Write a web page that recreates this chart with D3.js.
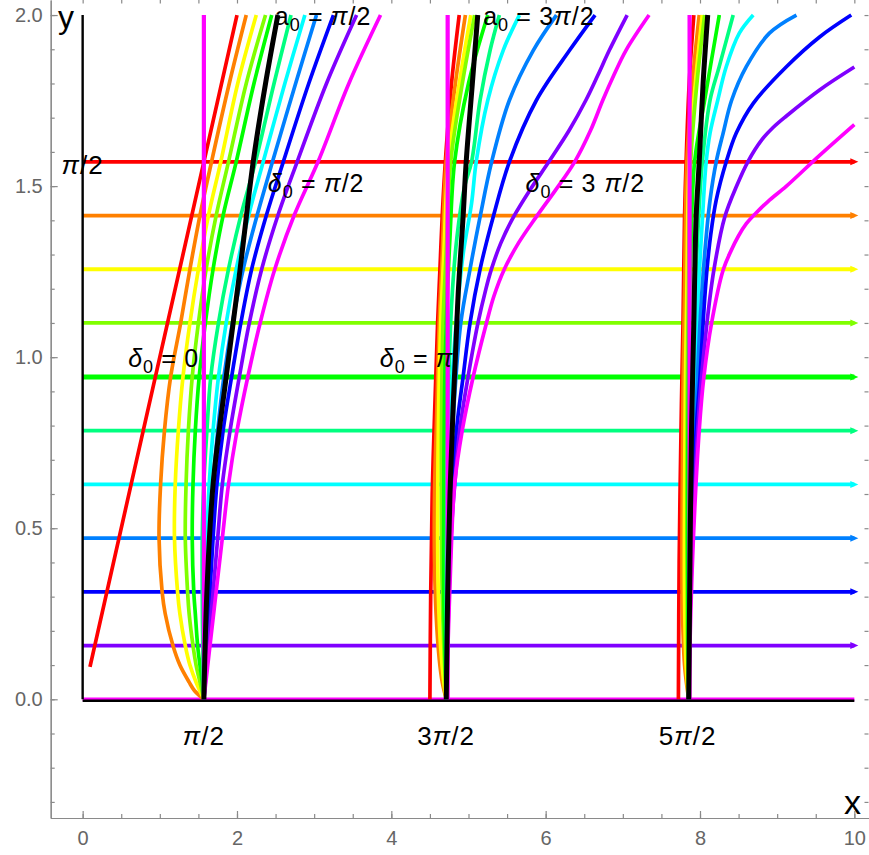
<!DOCTYPE html>
<html>
<head>
<meta charset="utf-8">
<script src="https://cdn.jsdelivr.net/npm/d3@7"></script>
<style>
  body { margin: 0; background: #fff; }
  text { font-family: "Liberation Sans", Arial, sans-serif; }
</style>
</head>
<body>
<div id="chart"></div>
<script>
// horizontal solution lines (y = const) and their colours
const levels = [0, 0.157, 0.314, 0.471, 0.628, 0.785, 0.942, 1.100, 1.257, 1.414, 1.571];
const levelColors = ["#ff00ff", "#8000ff", "#0000ff", "#0080ff", "#00ffff", "#00ff80",
                     "#00ff00", "#80ff00", "#ffff00", "#ff8000", "#ff0000"];

// colours of the curve families, red -> magenta
const curveColors = ["#ff0000", "#ff8000", "#ffff00", "#80ff00", "#00ff00", "#00ff80",
                     "#00ffff", "#0080ff", "#0000ff", "#8000ff", "#ff00ff"];

// vertical magenta lines
const poles = [1.571, 4.73, 7.865];

// curves near x = pi/2, points are [x, y]
const group1 = [
  [[0.095, 0.095], [1.0, 1.0], [2.0, 2.0]],
  [[1.571, 0], [1.45, 0.025], [1.38, 0.05], [1.26, 0.1], [1.17, 0.157], [1.07, 0.25], [1.03, 0.314], [0.99, 0.471], [1.01, 0.628], [1.06, 0.785], [1.14, 0.942], [1.27, 1.1], [1.39, 1.257], [1.52, 1.414], [1.67, 1.571], [1.90, 1.8], [2.12, 2.0]],
  [[1.571, 0], [1.47, 0.05], [1.39, 0.1], [1.33, 0.157], [1.26, 0.25], [1.23, 0.314], [1.19, 0.471], [1.20, 0.628], [1.24, 0.785], [1.30, 0.942], [1.39, 1.1], [1.50, 1.257], [1.63, 1.414], [1.79, 1.571], [2.01, 1.8], [2.25, 2.0]],
  [[1.571, 0], [1.52, 0.05], [1.47, 0.1], [1.43, 0.157], [1.38, 0.25], [1.36, 0.314], [1.33, 0.471], [1.34, 0.628], [1.37, 0.785], [1.42, 0.942], [1.50, 1.1], [1.60, 1.257], [1.73, 1.414], [1.89, 1.571], [2.12, 1.8], [2.37, 2.0]],
  [[1.571, 0], [1.55, 0.05], [1.52, 0.1], [1.49, 0.157], [1.46, 0.25], [1.44, 0.314], [1.42, 0.471], [1.43, 0.628], [1.46, 0.785], [1.51, 0.942], [1.59, 1.1], [1.69, 1.257], [1.82, 1.414], [1.99, 1.571], [2.22, 1.8], [2.45, 2.0]],
  [[1.571, 0], [1.56, 0.1], [1.55, 0.314], [1.55, 0.471], [1.57, 0.628], [1.61, 0.785], [1.66, 0.942], [1.76, 1.1], [1.89, 1.257], [2.05, 1.414], [2.24, 1.571], [2.48, 1.8], [2.70, 2.0]],
  [[1.571, 0], [1.58, 0.157], [1.59, 0.314], [1.61, 0.471], [1.64, 0.628], [1.69, 0.785], [1.76, 0.942], [1.86, 1.1], [1.99, 1.257], [2.15, 1.414], [2.34, 1.571], [2.62, 1.8], [2.88, 2.0]],
  [[1.571, 0], [1.60, 0.157], [1.62, 0.314], [1.65, 0.471], [1.69, 0.628], [1.75, 0.785], [1.83, 0.942], [1.94, 1.1], [2.08, 1.257], [2.26, 1.414], [2.46, 1.571], [2.76, 1.8], [3.03, 2.0]],
  [[1.571, 0], [1.61, 0.157], [1.65, 0.314], [1.69, 0.471], [1.74, 0.628], [1.82, 0.785], [1.93, 0.942], [2.05, 1.1], [2.19, 1.257], [2.38, 1.414], [2.60, 1.571], [2.93, 1.8], [3.25, 2.0]],
  [[1.571, 0], [1.63, 0.157], [1.69, 0.314], [1.75, 0.471], [1.81, 0.628], [1.91, 0.785], [2.03, 0.942], [2.16, 1.1], [2.32, 1.257], [2.53, 1.414], [2.78, 1.571], [3.16, 1.8], [3.55, 2.0]],
  [[1.571, 0], [1.65, 0.157], [1.73, 0.314], [1.81, 0.471], [1.89, 0.628], [2.00, 0.785], [2.14, 0.942], [2.30, 1.1], [2.49, 1.257], [2.74, 1.414], [3.05, 1.571], [3.45, 1.8], [3.86, 2.0]]
];
const black1 = [[1.571, 0], [1.61, 0.314], [1.69, 0.628], [1.86, 0.942], [2.04, 1.257], [2.21, 1.571], [2.37, 1.8], [2.53, 2.0]];

// curves near x = 3pi/2
const group2 = [
  [[4.50, 0], [4.51, 0.3], [4.53, 0.6], [4.57, 0.9], [4.60, 1.1], [4.63, 1.257], [4.66, 1.414], [4.70, 1.571], [4.78, 1.8], [4.88, 2.0]],
  [[4.712, 0], [4.66, 0.05], [4.62, 0.12], [4.58, 0.25], [4.56, 0.4], [4.56, 0.6], [4.59, 0.85], [4.62, 1.1], [4.66, 1.3], [4.71, 1.571], [4.83, 1.8], [4.96, 2.0]],
  [[4.712, 0], [4.68, 0.05], [4.64, 0.15], [4.61, 0.3], [4.60, 0.5], [4.61, 0.8], [4.64, 1.1], [4.68, 1.3], [4.74, 1.571], [4.88, 1.8], [5.03, 2.0]],
  [[4.712, 0], [4.69, 0.1], [4.66, 0.3], [4.65, 0.5], [4.65, 0.8], [4.67, 1.1], [4.71, 1.3], [4.77, 1.571], [4.92, 1.8], [5.08, 2.0]],
  [[4.712, 0], [4.70, 0.1], [4.68, 0.3], [4.68, 0.6], [4.69, 0.9], [4.72, 1.15], [4.76, 1.35], [4.82, 1.571], [5.0, 1.8], [5.25, 2.0]],
  [[4.712, 0], [4.71, 0.3], [4.72, 0.6], [4.74, 0.9], [4.78, 1.15], [4.85, 1.35], [4.95, 1.5], [5.04, 1.571], [5.15, 1.751], [5.28, 1.897], [5.40, 2.0]],
  [[4.712, 0], [4.72, 0.3], [4.74, 0.6], [4.78, 0.9], [4.84, 1.1], [4.93, 1.3], [5.04, 1.45], [5.10, 1.571], [5.25, 1.751], [5.45, 1.897], [5.66, 2.0]],
  [[4.712, 0], [4.73, 0.3], [4.76, 0.6], [4.81, 0.85], [4.90, 1.1], [5.02, 1.257], [5.15, 1.41], [5.30, 1.571], [5.53, 1.751], [5.84, 1.897], [6.14, 2.0]],
  [[4.712, 0], [4.74, 0.3], [4.78, 0.6], [4.85, 0.8], [4.93, 0.942], [5.02, 1.1], [5.15, 1.257], [5.32, 1.41], [5.53, 1.571], [5.88, 1.751], [6.31, 1.897], [6.64, 2.0]],
  [[4.712, 0], [4.74, 0.25], [4.78, 0.5], [4.83, 0.65], [4.886, 0.787], [4.994, 0.942], [5.123, 1.1], [5.222, 1.196], [5.294, 1.255], [5.42, 1.334], [5.584, 1.41], [5.798, 1.489], [6.041, 1.571], [6.307, 1.664], [6.521, 1.751], [6.676, 1.824], [6.825, 1.897], [7.056, 2.0]],
  [[4.712, 0], [4.74, 0.2], [4.77, 0.4], [4.82, 0.628], [4.92, 0.787], [5.06, 0.942], [5.233, 1.1], [5.329, 1.178], [5.46, 1.255], [5.649, 1.334], [5.878, 1.41], [6.13, 1.489], [6.376, 1.571], [6.584, 1.664], [6.74, 1.751], [6.883, 1.824], [7.041, 1.897], [7.34, 2.0]]
];
const black2 = [[4.712, 0], [4.73, 0.3], [4.76, 0.6], [4.80, 0.85], [4.83, 1.0], [4.87, 1.2], [4.93, 1.41], [4.97, 1.571], [5.05, 1.8], [5.12, 2.0]];

// curves near x = 5pi/2
const group3 = [
  [[7.72, 0], [7.73, 0.4], [7.76, 0.87], [7.78, 1.1], [7.80, 1.41], [7.82, 1.571], [7.86, 1.8], [7.92, 2.0]],
  [[7.854, 0], [7.80, 0.1], [7.77, 0.3], [7.77, 0.6], [7.78, 0.9], [7.80, 1.2], [7.83, 1.571], [7.90, 1.8], [7.99, 2.0]],
  [[7.854, 0], [7.82, 0.1], [7.80, 0.3], [7.80, 0.6], [7.81, 0.9], [7.83, 1.2], [7.86, 1.571], [7.94, 1.8], [8.03, 2.0]],
  [[7.854, 0], [7.835, 0.2], [7.83, 0.5], [7.835, 0.9], [7.85, 1.2], [7.88, 1.571], [7.96, 1.8], [8.06, 2.0]],
  [[7.854, 0], [7.845, 0.2], [7.84, 0.6], [7.855, 1.0], [7.88, 1.3], [7.93, 1.571], [8.06, 1.751], [8.25, 2.0]],
  [[7.854, 0], [7.86, 0.4], [7.88, 0.7], [7.91, 1.0], [7.94, 1.2], [7.98, 1.4], [8.03, 1.571], [8.13, 1.751], [8.25, 1.85], [8.43, 2.0]],
  [[7.854, 0], [7.87, 0.4], [7.90, 0.7], [7.94, 1.0], [7.98, 1.2], [8.03, 1.4], [8.08, 1.571], [8.13, 1.655], [8.23, 1.751], [8.34, 1.849], [8.51, 1.947], [8.69, 2.0]],
  [[7.854, 0], [7.88, 0.4], [7.92, 0.7], [7.96, 0.9], [8.00, 1.1], [8.06, 1.3], [8.13, 1.459], [8.21, 1.571], [8.30, 1.655], [8.41, 1.751], [8.60, 1.849], [8.90, 1.947], [9.25, 2.0]],
  [[7.854, 0], [7.87, 0.25], [7.90, 0.5], [7.95, 0.787], [8.00, 0.942], [8.04, 1.1], [8.09, 1.255], [8.14, 1.36], [8.21, 1.459], [8.34, 1.571], [8.47, 1.655], [8.69, 1.742], [9.12, 1.849], [9.55, 1.936], [9.96, 2.0]],
  [[7.854, 0], [7.87, 0.25], [7.91, 0.5], [7.97, 0.787], [8.02, 0.942], [8.09, 1.1], [8.18, 1.255], [8.32, 1.409], [8.48, 1.503], [8.62, 1.571], [8.80, 1.635], [8.95, 1.672], [9.12, 1.705], [9.55, 1.781], [10.0, 1.848]],
  [[7.854, 0], [7.88, 0.25], [7.92, 0.5], [7.99, 0.787], [8.05, 0.942], [8.15, 1.1], [8.30, 1.255], [8.40, 1.31], [8.50, 1.355], [8.60, 1.39], [8.72, 1.42], [8.88, 1.455], [9.12, 1.50], [9.55, 1.59], [10.0, 1.68]]
];
const black3 = [[7.854, 0], [7.87, 0.4], [7.89, 0.787], [7.92, 1.1], [7.95, 1.41], [7.99, 1.571], [8.04, 1.8], [8.10, 2.0]];

// axis ticks
const xTicks = [0, 2, 4, 6, 8, 10];
const yTicks = [0, 0.5, 1.0, 1.5, 2.0];
const yTickLabels = ["0.0", "0.5", "1.0", "1.5", "2.0"];

// annotations: text parts (greek parts italic, "sub" = subscript)
const sp = "\u2005";
const notes = [
  {parts: [["π", "g"], ["/2"]], x: 1.571, y: -0.134, anchor: "middle", size: 26},
  {parts: [["3"], ["π", "g"], ["/2"]], x: 4.71, y: -0.134, anchor: "middle", size: 26},
  {parts: [["5"], ["π", "g"], ["/2"]], x: 7.84, y: -0.134, anchor: "middle", size: 26},
  {parts: [["π", "g"], ["/2"]], x: 0.0, y: 1.535, anchor: "middle", size: 26},
  {parts: [["δ", "g"], ["0", "sub"], [sp + "=" + sp + "0"]], x: 0.59, y: 0.97, anchor: "start", size: 25},
  {parts: [["δ", "g"], ["0", "sub"], [sp + "=" + sp], ["π", "g"]], x: 3.85, y: 0.97, anchor: "start", size: 25},
  {parts: [["δ", "g"], ["0", "sub"], [sp + "=" + sp], ["π", "g"], ["/2"]], x: 2.40, y: 1.483, anchor: "start", size: 25},
  {parts: [["δ", "g"], ["0", "sub"], [sp + "=" + sp + "3 "], ["π", "g"], ["/2"]], x: 5.74, y: 1.483, anchor: "start", size: 25},
  {parts: [["a"], ["0", "sub"], [sp + "=" + sp], ["π", "g"], ["/2"]], x: 2.49, y: 1.97, anchor: "start", size: 25},
  {parts: [["a"], ["0", "sub"], [sp + "=" + sp + "3"], ["π", "g"], ["/2"]], x: 5.19, y: 1.97, anchor: "start", size: 25}
];

const width = 869, height = 855;
const x = d3.scaleLinear().domain([-0.414, 10.19]).range([50.7, 869]);
const y = d3.scaleLinear().domain([-0.347, 2.044]).range([818, 0]);

let svg = d3.select("#chart")
  .append("svg")
  .attr("width", width)
  .attr("height", height);

let defs = svg.append("defs");
levelColors.forEach((c, i) => {
  defs.append("marker")
    .attr("id", "arrow" + i)
    .attr("markerUnits", "userSpaceOnUse")
    .attr("markerWidth", 9).attr("markerHeight", 9)
    .attr("refX", 4).attr("refY", 4.5)
    .attr("orient", "auto")
    .append("path")
    .attr("d", "M0,1 L8,4.5 L0,8 z")
    .attr("fill", c);
});

// frame axes (gray, ticks pointing inward)
const axisColor = "#8a8a8a";
let axes = svg.append("g");

axes.append("g")
  .attr("transform", "translate(0," + y(-0.347) + ")")
  .call(d3.axisBottom(x).tickValues(x.ticks(20)).tickSizeInner(-4).tickSizeOuter(0).tickFormat(""));
axes.append("g")
  .attr("transform", "translate(0," + y(-0.347) + ")")
  .call(d3.axisBottom(x).tickValues(xTicks).tickSizeInner(-7).tickSizeOuter(0).tickPadding(13).tickFormat(d3.format("d")));

axes.append("g")
  .attr("transform", "translate(" + x(-0.414) + ",0)")
  .call(d3.axisLeft(y).tickValues(y.ticks(24)).tickSizeInner(-4).tickSizeOuter(0).tickFormat(""));
axes.append("g")
  .attr("transform", "translate(" + x(-0.414) + ",0)")
  .call(d3.axisLeft(y).tickValues(yTicks).tickSizeInner(-7).tickSizeOuter(0).tickPadding(8).tickFormat((d, i) => yTickLabels[i]));

// mirrored ticks on top and right edges
axes.append("g")
  .call(d3.axisTop(x).tickValues(x.ticks(20)).tickSizeInner(-3.5).tickSizeOuter(0).tickFormat(""))
  .select(".domain").remove();
axes.append("g")
  .attr("transform", "translate(" + (width - 0.5) + ",0)")
  .call(d3.axisRight(y).tickValues(y.ticks(24)).tickSizeInner(-4).tickSizeOuter(0).tickFormat(""))
  .select(".domain").remove();

axes.selectAll("path, line").attr("stroke", axisColor).attr("stroke-width", 1.2);
axes.selectAll("text").attr("fill", "#666").style("font-size", "20px")
  .style("font-family", "'Liberation Sans', Arial, sans-serif");

let plot = svg.append("g");

// horizontal lines
plot.selectAll(".level")
  .data(levels)
  .enter().append("line")
  .attr("class", "level")
  .attr("x1", x(0)).attr("x2", x(10))
  .attr("y1", d => y(d)).attr("y2", d => y(d))
  .attr("stroke", (d, i) => levelColors[i])
  .attr("stroke-width", (d, i) => i === 6 ? 4.8 : 3.8)
  .attr("marker-end", (d, i) => i === 0 ? null : "url(#arrow" + i + ")");

let line = d3.line()
  .x(d => x(d[0]))
  .y(d => y(d[1]))
  .curve(d3.curveCatmullRom.alpha(0.5));

[group1, group2, group3].forEach(group => {
  plot.append("g")
    .selectAll("path")
    .data(group)
    .enter().append("path")
    .attr("d", line)
    .attr("fill", "none")
    .attr("stroke", (d, i) => curveColors[i])
    .attr("stroke-width", 3.7)
    .attr("stroke-linejoin", "round");
});

// vertical magenta lines
plot.selectAll(".pole")
  .data(poles)
  .enter().append("line")
  .attr("class", "pole")
  .attr("x1", d => x(d)).attr("x2", d => x(d))
  .attr("y1", y(0)).attr("y2", y(2.0))
  .attr("stroke", "#ff00ff")
  .attr("stroke-width", 4.2);

// black curves
plot.selectAll(".sep")
  .data([black1, black2, black3])
  .enter().append("path")
  .attr("class", "sep")
  .attr("d", line)
  .attr("fill", "none")
  .attr("stroke", "#000")
  .attr("stroke-width", 5);

// black coordinate axes
plot.append("line")
  .attr("x1", x(0)).attr("x2", x(10))
  .attr("y1", y(0) + 1.5).attr("y2", y(0) + 1.5)
  .attr("stroke", "#000").attr("stroke-width", 2.6);
plot.append("line")
  .attr("x1", x(0)).attr("x2", x(0))
  .attr("y1", y(0)).attr("y2", y(2.0))
  .attr("stroke", "#000").attr("stroke-width", 2.4);

// axis names
svg.append("text").attr("x", 58).attr("y", 28).style("font-size", "32px").text("y");
svg.append("text").attr("x", 844).attr("y", 814).style("font-size", "34px").text("x");

// annotations
notes.forEach(n => {
  let t = svg.append("text")
    .attr("x", x(n.x)).attr("y", y(n.y))
    .attr("text-anchor", n.anchor)
    .style("font-size", n.size + "px")
    .style("letter-spacing", "1px")
    .attr("fill", "#000");
  let lowered = false;
  n.parts.forEach(p => {
    let s = t.append("tspan").text(p[0]);
    if (p[1] === "sub") {
      s.attr("dy", 6).style("font-size", (n.size * 0.72) + "px");
      lowered = true;
    } else {
      if (lowered) { s.attr("dy", -6); lowered = false; }
      if (p[1] === "g") s.style("font-style", "italic");
    }
  });
});
</script>
</body>
</html>
